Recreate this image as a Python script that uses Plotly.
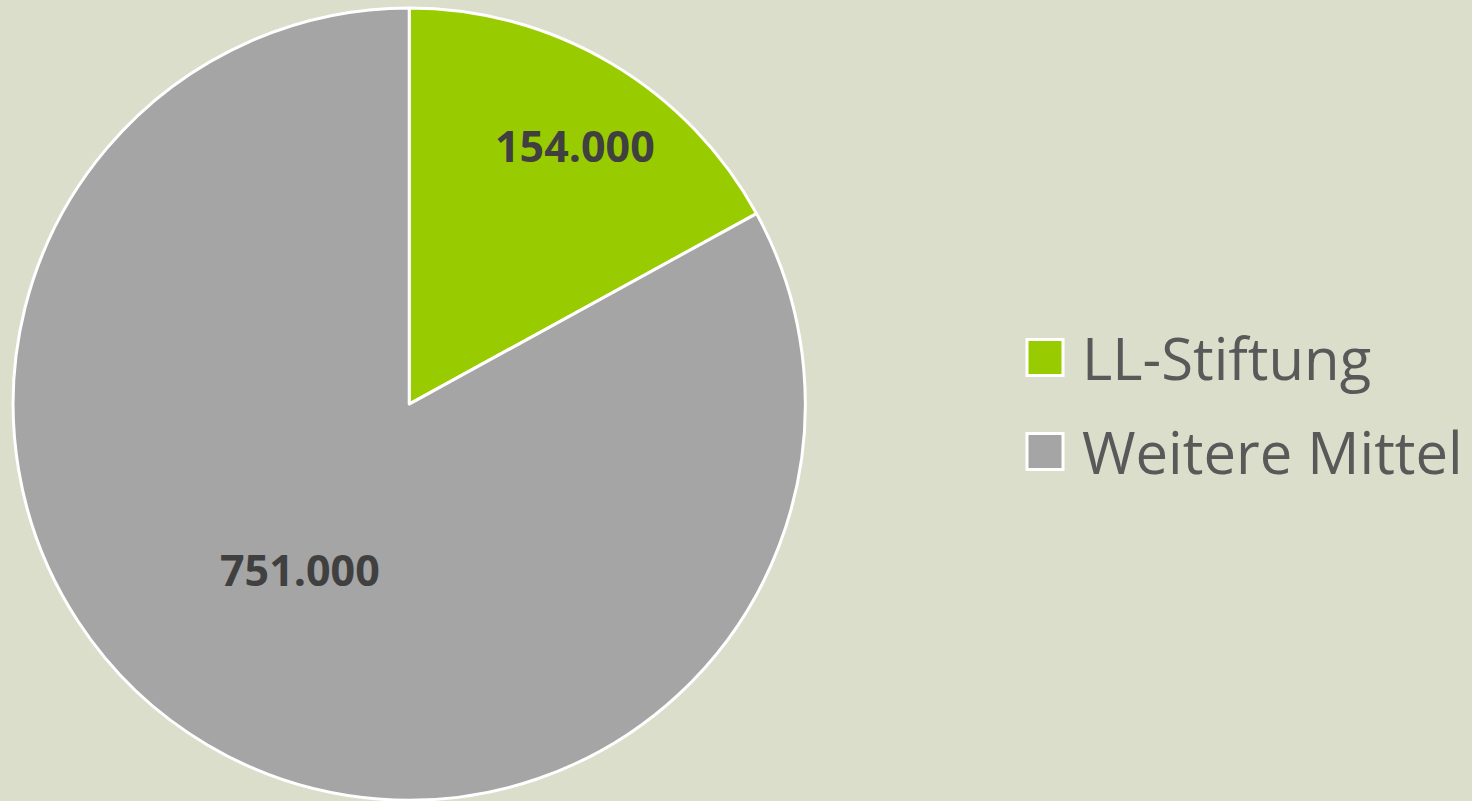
import math
import plotly.graph_objects as go

labels = ["LL-Stiftung", "Weitere Mittel"]
values = [154000, 751000]
text_labels = ["154.000", "751.000"]
colors = ["#99CC00", "#A5A5A5"]

W, H = 1472, 801
dom_x = [0.008, 0.548]
dom_y = [0.001, 0.99]

fig = go.Figure(go.Pie(
    labels=labels,
    values=values,
    textinfo="none",
    sort=False,
    direction="clockwise",
    rotation=0,
    marker=dict(colors=colors, line=dict(color="white", width=3)),
    domain=dict(x=dom_x, y=dom_y),
    hoverinfo="label+value",
    showlegend=False,
))

# data labels placed near the middle angle of each slice (Excel "best fit" style)
cx_px = (dom_x[0] + dom_x[1]) / 2 * W
cy_px = (1 - (dom_y[0] + dom_y[1]) / 2) * H
R_px = min((dom_x[1] - dom_x[0]) * W, (dom_y[1] - dom_y[0]) * H) / 2
radial = [0.775, 0.50]
angle_shift = [2.0, 3.0]
total = sum(values)
start = 0.0
annotations = []
for v, t, rf, sh in zip(values, text_labels, radial, angle_shift):
    span = v / total * 360
    mid = math.radians(start + span / 2 + sh)
    start += span
    x_px = cx_px + rf * R_px * math.sin(mid)
    y_px = cy_px - rf * R_px * math.cos(mid)
    annotations.append(dict(
        x=x_px / W, y=1 - y_px / H, xref="paper", yref="paper",
        text=t, showarrow=False, xanchor="center", yanchor="middle",
        font=dict(family="Open Sans", size=43, color="#404040", weight="bold"),
    ))

# legend (large square swatches)
shapes = []
leg_y = [357.5, 451.5]
sq = 36
sq_x0 = 1027
for lab, col, yc in zip(labels, colors, leg_y):
    shapes.append(dict(
        type="rect", xref="paper", yref="paper",
        x0=sq_x0 / W, x1=(sq_x0 + sq) / W,
        y0=1 - (yc + sq / 2) / H, y1=1 - (yc - sq / 2) / H,
        fillcolor=col, line=dict(color="white", width=3),
    ))
    annotations.append(dict(
        x=1080 / W, y=1 - yc / H, xref="paper", yref="paper",
        text=lab, showarrow=False, xanchor="left", yanchor="middle",
        font=dict(family="Open Sans", size=58, color="#595959"),
    ))

fig.update_layout(
    width=W, height=H,
    margin=dict(l=0, r=0, t=0, b=0),
    paper_bgcolor="#DCDECC",
    plot_bgcolor="#DCDECC",
    annotations=annotations,
    shapes=shapes,
)

fig.write_html(
    "out.html",
    config={"displayModeBar": False},
    post_script="document.body.style.margin='0';document.body.style.overflow='hidden';",
)
